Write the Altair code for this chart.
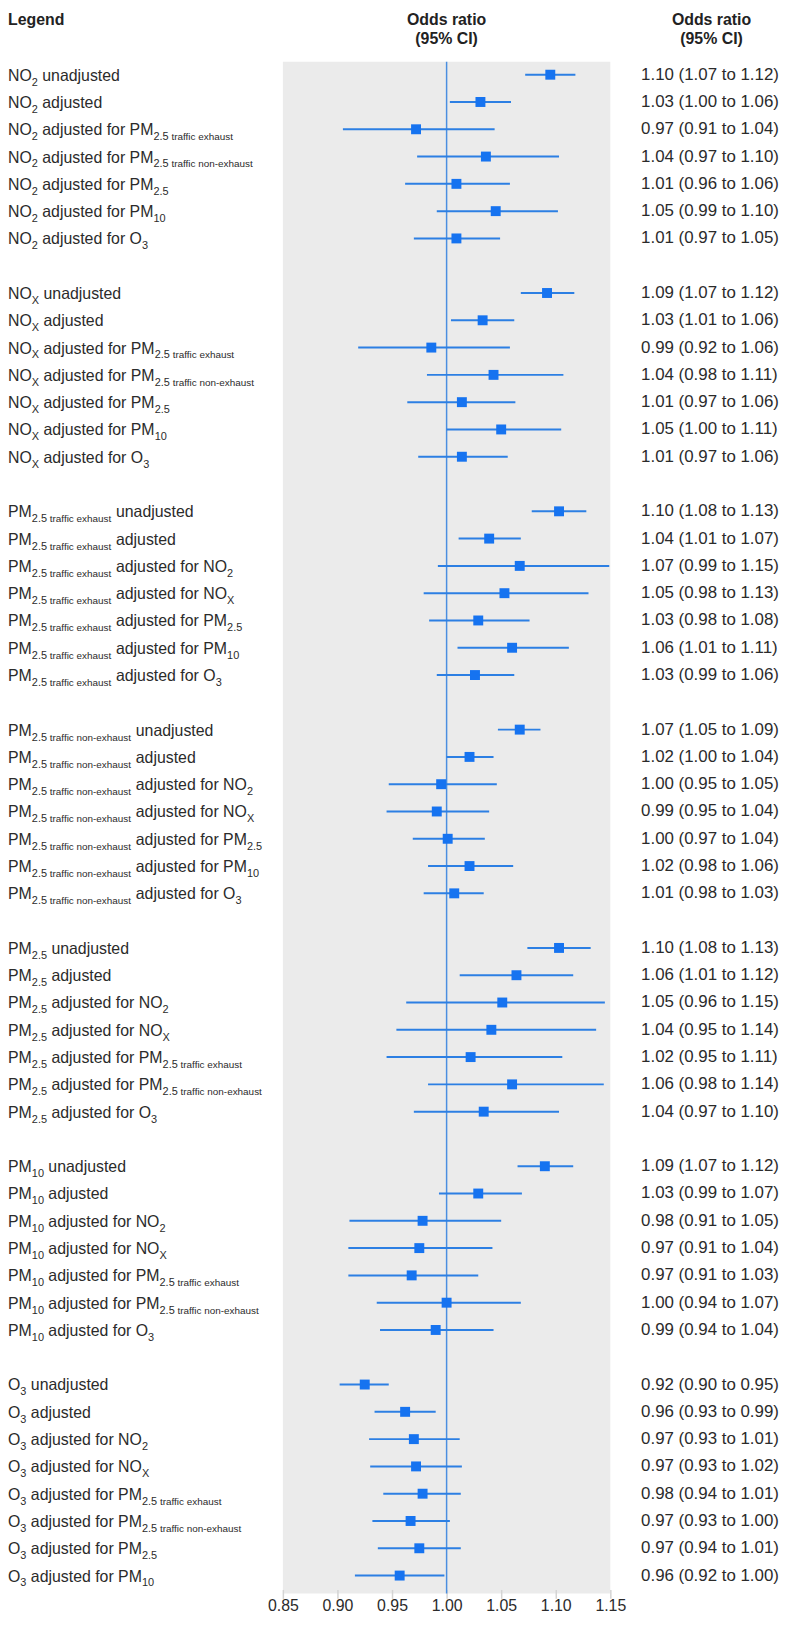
import re
import altair as alt
import pandas as pd

# ---------------- data ----------------
group_sizes = [7, 7, 7, 7, 7, 7, 8]

labels = [
    "NO_{2} unadjusted", "NO_{2} adjusted",
    "NO_{2} adjusted for PM_{2.5|traffic exhaust}", "NO_{2} adjusted for PM_{2.5|traffic non-exhaust}",
    "NO_{2} adjusted for PM_{2.5}", "NO_{2} adjusted for PM_{10}", "NO_{2} adjusted for O_{3}",

    "NO_{X} unadjusted", "NO_{X} adjusted",
    "NO_{X} adjusted for PM_{2.5|traffic exhaust}", "NO_{X} adjusted for PM_{2.5|traffic non-exhaust}",
    "NO_{X} adjusted for PM_{2.5}", "NO_{X} adjusted for PM_{10}", "NO_{X} adjusted for O_{3}",

    "PM_{2.5|traffic exhaust} unadjusted", "PM_{2.5|traffic exhaust} adjusted",
    "PM_{2.5|traffic exhaust} adjusted for NO_{2}", "PM_{2.5|traffic exhaust} adjusted for NO_{X}",
    "PM_{2.5|traffic exhaust} adjusted for PM_{2.5}", "PM_{2.5|traffic exhaust} adjusted for PM_{10}",
    "PM_{2.5|traffic exhaust} adjusted for O_{3}",

    "PM_{2.5|traffic non-exhaust} unadjusted", "PM_{2.5|traffic non-exhaust} adjusted",
    "PM_{2.5|traffic non-exhaust} adjusted for NO_{2}", "PM_{2.5|traffic non-exhaust} adjusted for NO_{X}",
    "PM_{2.5|traffic non-exhaust} adjusted for PM_{2.5}", "PM_{2.5|traffic non-exhaust} adjusted for PM_{10}",
    "PM_{2.5|traffic non-exhaust} adjusted for O_{3}",

    "PM_{2.5} unadjusted", "PM_{2.5} adjusted",
    "PM_{2.5} adjusted for NO_{2}", "PM_{2.5} adjusted for NO_{X}",
    "PM_{2.5} adjusted for PM_{2.5|traffic exhaust}", "PM_{2.5} adjusted for PM_{2.5|traffic non-exhaust}",
    "PM_{2.5} adjusted for O_{3}",

    "PM_{10} unadjusted", "PM_{10} adjusted",
    "PM_{10} adjusted for NO_{2}", "PM_{10} adjusted for NO_{X}",
    "PM_{10} adjusted for PM_{2.5|traffic exhaust}", "PM_{10} adjusted for PM_{2.5|traffic non-exhaust}",
    "PM_{10} adjusted for O_{3}",

    "O_{3} unadjusted", "O_{3} adjusted",
    "O_{3} adjusted for NO_{2}", "O_{3} adjusted for NO_{X}",
    "O_{3} adjusted for PM_{2.5|traffic exhaust}", "O_{3} adjusted for PM_{2.5|traffic non-exhaust}",
    "O_{3} adjusted for PM_{2.5}", "O_{3} adjusted for PM_{10}",
]

or_mid = [
    1.095, 1.031, 0.972, 1.036, 1.009, 1.045, 1.009,
    1.092, 1.033, 0.986, 1.043, 1.014, 1.050, 1.014,
    1.103, 1.039, 1.067, 1.053, 1.029, 1.060, 1.026,
    1.067, 1.021, 0.995, 0.991, 1.001, 1.021, 1.007,
    1.103, 1.064, 1.051, 1.041, 1.022, 1.060, 1.034,
    1.090, 1.029, 0.978, 0.975, 0.968, 1.000, 0.990,
    0.925, 0.962, 0.970, 0.972, 0.978, 0.967, 0.975, 0.957,
]
ci_lo = [
    1.072, 1.003, 0.905, 0.973, 0.962, 0.991, 0.970,
    1.068, 1.004, 0.919, 0.982, 0.964, 1.000, 0.974,
    1.078, 1.011, 0.992, 0.979, 0.984, 1.010, 0.991,
    1.047, 1.000, 0.947, 0.945, 0.969, 0.983, 0.979,
    1.074, 1.012, 0.963, 0.954, 0.945, 0.983, 0.970,
    1.065, 0.993, 0.911, 0.910, 0.910, 0.936, 0.939,
    0.902, 0.934, 0.929, 0.930, 0.942, 0.932, 0.937, 0.916,
]
ci_hi = [
    1.118, 1.059, 1.044, 1.103, 1.058, 1.102, 1.049,
    1.117, 1.062, 1.058, 1.107, 1.063, 1.105, 1.056,
    1.128, 1.068, 1.149, 1.130, 1.076, 1.112, 1.062,
    1.086, 1.043, 1.046, 1.039, 1.035, 1.061, 1.034,
    1.132, 1.116, 1.145, 1.137, 1.106, 1.144, 1.103,
    1.116, 1.069, 1.050, 1.042, 1.029, 1.068, 1.043,
    0.947, 0.990, 1.012, 1.014, 1.013, 1.003, 1.013, 0.998,
]
or_text = [
    "1.10 (1.07 to 1.12)", "1.03 (1.00 to 1.06)", "0.97 (0.91 to 1.04)", "1.04 (0.97 to 1.10)",
    "1.01 (0.96 to 1.06)", "1.05 (0.99 to 1.10)", "1.01 (0.97 to 1.05)",
    "1.09 (1.07 to 1.12)", "1.03 (1.01 to 1.06)", "0.99 (0.92 to 1.06)", "1.04 (0.98 to 1.11)",
    "1.01 (0.97 to 1.06)", "1.05 (1.00 to 1.11)", "1.01 (0.97 to 1.06)",
    "1.10 (1.08 to 1.13)", "1.04 (1.01 to 1.07)", "1.07 (0.99 to 1.15)", "1.05 (0.98 to 1.13)",
    "1.03 (0.98 to 1.08)", "1.06 (1.01 to 1.11)", "1.03 (0.99 to 1.06)",
    "1.07 (1.05 to 1.09)", "1.02 (1.00 to 1.04)", "1.00 (0.95 to 1.05)", "0.99 (0.95 to 1.04)",
    "1.00 (0.97 to 1.04)", "1.02 (0.98 to 1.06)", "1.01 (0.98 to 1.03)",
    "1.10 (1.08 to 1.13)", "1.06 (1.01 to 1.12)", "1.05 (0.96 to 1.15)", "1.04 (0.95 to 1.14)",
    "1.02 (0.95 to 1.11)", "1.06 (0.98 to 1.14)", "1.04 (0.97 to 1.10)",
    "1.09 (1.07 to 1.12)", "1.03 (0.99 to 1.07)", "0.98 (0.91 to 1.05)", "0.97 (0.91 to 1.04)",
    "0.97 (0.91 to 1.03)", "1.00 (0.94 to 1.07)", "0.99 (0.94 to 1.04)",
    "0.92 (0.90 to 0.95)", "0.96 (0.93 to 0.99)", "0.97 (0.93 to 1.01)", "0.97 (0.93 to 1.02)",
    "0.98 (0.94 to 1.01)", "0.97 (0.93 to 1.00)", "0.97 (0.94 to 1.01)", "0.96 (0.92 to 1.00)",
]
tick_values = [0.85, 0.90, 0.95, 1.00, 1.05, 1.10, 1.15]
header_left = "Legend"
header_mid = ["Odds ratio", "(95% CI)"]

# ---------------- layout / style ----------------
FONT = "Liberation Sans"
TXT = "#2b2b2b"
BLUE_SQ = "#1673f0"
BLUE_LN = "#2c7fe3"
BLUE_REF = "#4a8ee0"
BG = "#ebebeb"

STEP = 27.5
ROW_LO, ROW_HI = -0.472, 55.654
VIEW_H = (ROW_HI - ROW_LO) * STEP
LEFT_PAD, VIEW_W, TOP_PAD, RIGHT_PAD = 277, 330, 48, 173
BOTTOM_PAD = 1609 - TOP_PAD - VIEW_H
XMIN, XMAX = tick_values[0], tick_values[-1]

def xdata(c):  # chart pixel -> data units on the x scale
    return XMIN + (c - LEFT_PAD) * (XMAX - XMIN) / VIEW_W

def yrow(c):
    return ROW_LO + (c - TOP_PAD) / STEP

# Arial / Liberation Sans advance widths (1/1000 em)
W = {" ": 278, ".": 278, "-": 333, "(": 333, ")": 333, "%": 889}
for ch in "0123456789":
    W[ch] = 556
W.update(dict(zip("ABCDEFGHIJKLMNOPQRSTUVWXYZ",
                  [667, 667, 722, 722, 667, 611, 778, 722, 278, 500, 667, 556, 833, 722, 778,
                   667, 778, 722, 667, 611, 722, 667, 944, 667, 667, 611])))
W.update(dict(zip("abcdefghijklmnopqrstuvwxyz",
                  [556, 556, 500, 556, 556, 278, 556, 556, 222, 222, 500, 222, 833, 556, 556,
                   556, 556, 333, 500, 278, 556, 500, 722, 500, 500, 500])))

SIZES = {"main": 16, "sub": 11, "small": 10}

def tw(s, size):
    return sum(W.get(ch, 556) for ch in s) * size / 1000.0

def parse(markup):
    segs, pos = [], 0
    for m in re.finditer(r"_\{([^}]*)\}", markup):
        if m.start() > pos:
            segs.append((markup[pos:m.start()], "main"))
        inner = m.group(1)
        if "|" in inner:
            a, b = inner.split("|")
            segs.append((a, "sub"))
            segs.append((" " + b, "small"))
        else:
            segs.append((inner, "sub"))
        pos = m.end()
    if pos < len(markup):
        segs.append((markup[pos:], "main"))
    return segs

# rows
rows = []
for g, n in enumerate(group_sizes):
    for i in range(n):
        rows.append(g * 8 + i)

seg_rows = []
for r, lab in zip(rows, labels):
    cx = 0.0
    for text, kind in parse(lab):
        size = SIZES[kind]
        stripped = text.lstrip(" ")
        lead = len(text) - len(stripped)
        seg_rows.append({"row": r, "x": xdata(cx + lead * tw(" ", size)), "t": stripped, "kind": kind})
        cx += tw(text, size)
segs = pd.DataFrame(seg_rows)

df = pd.DataFrame({"row": rows, "mid": or_mid, "lo": ci_lo, "hi": ci_hi, "txt": or_text})
df["xt"] = xdata(638)

hdr = pd.DataFrame({
    "x": [xdata(442), xdata(442), xdata(709), xdata(709)],
    "row": [yrow(6), yrow(25), yrow(6), yrow(25)],
    "t": header_mid + header_mid,
})
leg = pd.DataFrame({"x": [xdata(0)], "row": [yrow(6)], "t": [header_left]})
ref = pd.DataFrame({"ref": [1.0]})

xs = alt.Scale(domain=[XMIN, XMAX], nice=False, zero=False)
ys = alt.Scale(domain=[ROW_LO, ROW_HI], nice=False, zero=False, reverse=True)
xaxis = alt.Axis(values=tick_values, format=".2f", grid=False, domain=False, title=None,
                 offset=-4, tickColor="#d4d4d4", tickSize=9, tickWidth=1.5,
                 labelFontSize=16, labelFont=FONT, labelColor=TXT, labelPadding=-1,
                 labelFlush=False, labelOverlap=False, labelBound=False)

def X(f):
    return alt.X(f, type="quantitative", scale=xs, axis=xaxis)

def Y():
    return alt.Y("row", type="quantitative", scale=ys, axis=None)

refline = alt.Chart(ref).mark_rule(color=BLUE_REF, strokeWidth=1.5).encode(x=X("ref"))
ci = alt.Chart(df).mark_rule(color=BLUE_LN, strokeWidth=2).encode(x=X("lo"), x2="hi", y=Y())
pts = alt.Chart(df).mark_square(size=100, color=BLUE_SQ, opacity=1).encode(x=X("mid"), y=Y())

vals = alt.Chart(df).mark_text(align="left", baseline="middle", font=FONT, fontSize=17, color=TXT).encode(
    x=X("xt"), y=Y(), text="txt:N")

lab_main = alt.Chart(segs).transform_filter(alt.datum.kind == "main").mark_text(
    align="left", baseline="alphabetic", dy=6, font=FONT, fontSize=SIZES["main"], color=TXT
).encode(x=X("x"), y=Y(), text="t:N")
lab_sub = alt.Chart(segs).transform_filter(alt.datum.kind == "sub").mark_text(
    align="left", baseline="alphabetic", dy=11, font=FONT, fontSize=SIZES["sub"], color=TXT
).encode(x=X("x"), y=Y(), text="t:N")
lab_small = alt.Chart(segs).transform_filter(alt.datum.kind == "small").mark_text(
    align="left", baseline="alphabetic", dy=11, font=FONT, fontSize=SIZES["small"], color=TXT
).encode(x=X("x"), y=Y(), text="t:N")

heads = alt.Chart(hdr).mark_text(align="center", baseline="middle", font=FONT, fontSize=16,
                                 fontWeight="bold", color="#222222").encode(x=X("x"), y=Y(), text="t:N")
legend = alt.Chart(leg).mark_text(align="left", baseline="middle", font=FONT, fontSize=16,
                                  fontWeight="bold", color="#222222").encode(x=X("x"), y=Y(), text="t:N")

chart = alt.layer(refline, ci, pts, vals, lab_main, lab_sub, lab_small, heads, legend).properties(
    width=VIEW_W, height=VIEW_H,
    background="white",
    autosize=alt.AutoSizeParams(type="none"),
    padding={"left": LEFT_PAD, "top": TOP_PAD, "right": RIGHT_PAD, "bottom": BOTTOM_PAD},
).configure_view(fill=BG, stroke=None)

chart.save("out.html", embed_options={"renderer": "svg", "actions": False})
